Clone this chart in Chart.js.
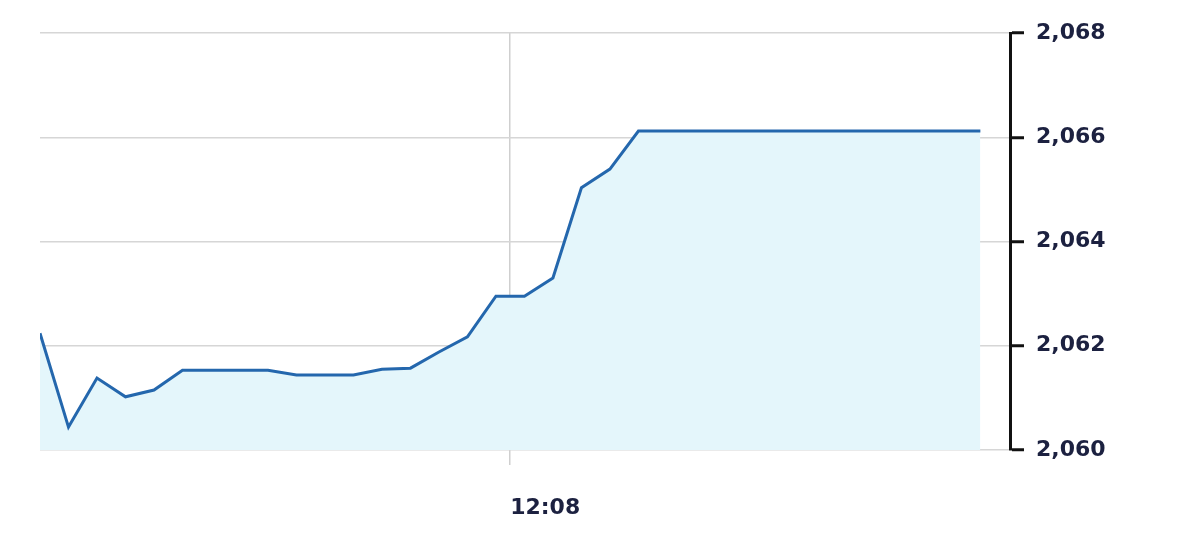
<!DOCTYPE html>
<html>
<head>
<meta charset="utf-8">
<script src="https://cdn.jsdelivr.net/npm/chart.js@4.4.1/dist/chart.umd.min.js"></script>
<style>
  html, body { margin: 0; padding: 0; background: #fff; }
  #wrap { width: 1200px; height: 559px; }
</style>
</head>
<body>
<div id="wrap"><canvas id="rateChart"></canvas></div>
<script>
// quote times, one per minute
const times = [
  "11:51:30", "11:52:30", "11:53:30", "11:54:30", "11:55:30", "11:56:30",
  "11:57:30", "11:58:30", "11:59:30", "12:00:30", "12:01:30", "12:02:30",
  "12:03:30", "12:04:30", "12:05:30", "12:06:30", "12:07:30", "12:08:30",
  "12:09:30", "12:10:30", "12:11:30", "12:12:30", "12:13:30", "12:14:30",
  "12:15:30", "12:16:30", "12:17:30", "12:18:30", "12:19:30", "12:20:30",
  "12:21:30", "12:22:30", "12:23:30", "12:24:30"
];
const rates = [
  2.06224, 2.06044, 2.06138, 2.06102, 2.06115, 2.06153,
  2.06153, 2.06153, 2.06153, 2.06144, 2.06144, 2.06144,
  2.06155, 2.06157, 2.06188, 2.06217, 2.06295, 2.06295,
  2.06330, 2.06503, 2.06539, 2.06612, 2.06612, 2.06612,
  2.06612, 2.06612, 2.06612, 2.06612, 2.06612, 2.06612,
  2.06612, 2.06612, 2.06612, 2.06612
];
const xTickLabels = ["12:08"];
const yTicks = [2.060, 2.062, 2.064, 2.066, 2.068];

const toSec = s => {
  const p = s.split(":").map(Number);
  return p[0] * 3600 + p[1] * 60 + (p[2] || 0);
};
const fmtTime = v => {
  const h = Math.floor(v / 3600), m = Math.floor((v % 3600) / 60);
  return h + ":" + String(m).padStart(2, "0");
};

const points = times.map((t, i) => ({ x: toSec(t), y: rates[i] }));
const labelFont = { family: "DejaVu Sans", size: 22, weight: "bold" };

new Chart(document.getElementById("rateChart"), {
  type: "line",
  data: {
    datasets: [{
      data: points,
      borderColor: "#2467ad",
      borderWidth: 3,
      backgroundColor: "#e4f6fb",
      fill: "start",
      pointRadius: 0,
      tension: 0
    }]
  },
  options: {
    responsive: true,
    maintainAspectRatio: false,
    animation: false,
    layout: { padding: { top: 33, left: 40 } },
    plugins: { legend: { display: false }, tooltip: { enabled: false } },
    scales: {
      x: {
        type: "linear",
        min: toSec(times[0]),
        max: toSec(times[0]) + 34.04 * 60,
        afterBuildTicks: scale => {
          scale.ticks = xTickLabels.map(l => ({ value: toSec(l) }));
        },
        afterFit: scale => { scale.height = 109; },
        border: { display: false },
        grid: { color: "#cfcfcf", lineWidth: 1.5, tickLength: 15, tickColor: "#cfcfcf" },
        ticks: {
          align: "start",
          padding: 30,
          color: "#1c2140",
          font: labelFont,
          maxRotation: 0,
          callback: v => fmtTime(v)
        }
      },
      y: {
        position: "right",
        min: yTicks[0],
        max: yTicks[yTicks.length - 1],
        afterBuildTicks: scale => {
          scale.ticks = yTicks.map(v => ({ value: v }));
        },
        afterFit: scale => { scale.width = 190; },
        border: { display: true, color: "#111", width: 3 },
        grid: { color: "#d6d6d6", lineWidth: 1.5, tickLength: 14, tickColor: "#111", tickWidth: 3 },
        ticks: {
          padding: 12,
          color: "#1c2140",
          font: labelFont,
          callback: v => v.toFixed(3).replace(".", ",")
        }
      }
    }
  }
});
</script>
</body>
</html>
